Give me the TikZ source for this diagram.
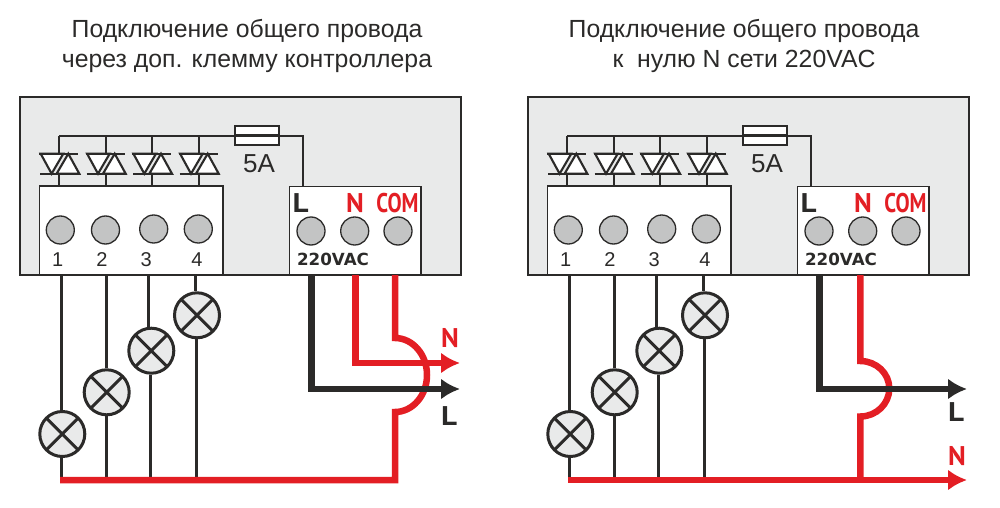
\documentclass[tikz,border=0pt]{standalone}
\usepackage{fontspec}
\usepackage{tikz}
\usetikzlibrary{arrows.meta}
\setmainfont{Liberation Sans}
\newfontfamily\markfont{PT Sans}
\newfontfamily\vacfont{DejaVu Sans}
\definecolor{wireblack}{HTML}{2B2A29}
\definecolor{wirered}{HTML}{E31E24}
\definecolor{panelgray}{HTML}{E9EAEA}
\definecolor{pingray}{HTML}{C3C4C4}
\newcommand{\narrowmark}[1]{\scalebox{.78}[1]{#1}}
\newcommand{\widemark}[1]{\scalebox{1.15}[1]{#1}}
\newcommand{\triac}[2]{%
  \draw[thinwire,fill=white] (#1-18.6,#2-10) -- (#1+4,#2-10) -- (#1-7.7,#2+10) -- cycle;
  \draw[thinwire,fill=white] (#1+9,#2-10) -- (#1+20,#2+10) -- (#1-2.7,#2+10) -- cycle;
  \draw[thinwire] (#1-20,#2-10) -- (#1+19,#2-10) (#1-19,#2+10) -- (#1+20,#2+10);
}
\tikzset{
  thinwire/.style={line width=2.1pt,draw=wireblack},
  loadwire/.style={line width=2.8pt,draw=wireblack},
  blackline/.style={line width=6.5pt,draw=wireblack,line join=miter},
  redline/.style={line width=6.5pt,draw=wirered,line join=miter},
  arrowline/.style={-{Latex[length=19pt,width=21pt]}},
  panel/.style={draw=wireblack,line width=1.3pt,fill=panelgray},
  termblock/.style={draw=wireblack,line width=1.3pt,fill=white},
  pin/.style={circle,draw=wireblack,line width=1.3pt,fill=pingray,minimum size=28pt,inner sep=0pt},
  lamp/.style={circle,draw=wireblack,line width=3pt,fill=panelgray,minimum size=45pt,inner sep=0pt,
    path picture={\draw[line width=3pt,draw=wireblack]
      (path picture bounding box.north west) -- (path picture bounding box.south east)
      (path picture bounding box.north east) -- (path picture bounding box.south west);}},
  fuse/.style={draw=wireblack,line width=1.7pt,fill=white,minimum width=44pt,minimum height=19pt,inner sep=0pt},
  title/.style={font=\fontsize{24.8}{30}\selectfont,align=center,text=wireblack,inner sep=0pt},
  num/.style={font=\fontsize{20}{20}\selectfont,text=wireblack,inner sep=0pt},
  blackmark/.style={font=\markfont\bfseries\fontsize{27}{27}\selectfont,text=wireblack,inner sep=0pt},
  redmark/.style={font=\markfont\bfseries\fontsize{27}{27}\selectfont,text=wirered,inner sep=0pt},
  vac/.style={font=\vacfont\bfseries\fontsize{16.7}{17}\selectfont,text=wireblack,inner sep=0pt},
}
\begin{document}
\begin{tikzpicture}[x=1pt,y=-1pt]
  \useasboundingbox (0,0) rectangle (1000,508);
  \node[title] (titlea) at (247,46) {Подключение общего провода\\через доп. клемму контроллера};
  \node[title] (titleb) at (744,46) {Подключение общего провода\\к\ \ нулю N сети 220VAC};

  % common part of both controllers
  \foreach \p/\dx in {a/0,b/508} {
  \begin{scope}[xshift=\dx pt]
    \draw[panel] (20,97) rectangle (461,275);
    \node[fuse] (\p fuse) at (257,135.5) {};
    \coordinate (\p busl) at (59,136);
    \coordinate (\p busr) at (303,136);
    \coordinate (\p hot) at (303,187);
    \draw[termblock] (39.5,186) rectangle (223,274.5);
    \draw[termblock] (289.5,186.5) rectangle (421,274.5);
    \draw[thinwire] (\p busl) -- (\p busr) -- (\p hot);
    % triacs
    \foreach \n/\x in {1/59.3,2/105.7,3/152,4/198.7} {
      \coordinate (\p tt\n) at (\x,154);
      \coordinate (\p tb\n) at (\x,186);
      \draw[thinwire] (\x,136) -- (\p tt\n) (\x,174) -- (\p tb\n);
      \triac{\x}{163.7}
    }
    \draw[thinwire] (\p fuse.west) -- (\p fuse.east);
    \node[font=\fontsize{26}{26}\selectfont,text=wireblack,inner sep=0pt] (\p amp) at (259,163.5) {5A};
    % screw pins and numbers
    \node[pin] (\p pin1) at (60.3,230) {};
    \node[pin] (\p pin2) at (105.5,230) {};
    \node[pin] (\p pin3) at (153.7,229) {};
    \node[pin] (\p pin4) at (198.3,229) {};
    \node[num] (\p num1) at (57.7,260) {1};
    \node[num] (\p num2) at (102,260) {2};
    \node[num] (\p num3) at (146.3,260) {3};
    \node[num] (\p num4) at (197,260) {4};
    \node[pin] (\p pinl) at (311,231) {};
    \node[pin] (\p pinn) at (354.7,231) {};
    \node[pin] (\p pinc) at (398,231) {};
    \node[blackmark] (\p markl) at (300.5,203) {\widemark{L}};
    \node[redmark] (\p markn) at (355,203) {N};
    \node[redmark] (\p markc) at (397.5,203) {\narrowmark{COM}};
    \node[vac] (\p vac) at (333,259) {220VAC};
    % lamps
    \node[lamp] (\p lamp1) at (62.3,434) {};
    \node[lamp] (\p lamp2) at (106.7,392.3) {};
    \node[lamp] (\p lamp3) at (151.3,350.7) {};
    \node[lamp] (\p lamp4) at (197,315.3) {};
    \foreach \n/\u/\l in {1/61.7/61.7,2/106.3/106.3,3/148.7/150.7,4/195.3/196.3} {
      \coordinate (\p up\n) at (\u,275);
      \coordinate (\p lo\n) at (\l,480);
      \draw[loadwire] (\p up\n) -- (\p up\n |- \p lamp\n.north);
      \draw[loadwire] (\p lamp\n.south -| \p lo\n) -- (\p lo\n);
    }
  \end{scope}
  }

  % left: common through extra terminal
  \coordinate (acom) at (395,275);
  \coordinate (ajt) at (395,338);
  \coordinate (ajm) at (427,375);
  \coordinate (ajb) at (395,412);
  \coordinate (abus) at (60,480);
  \coordinate (acor) at (395,480);
  \draw[redline] (acom) -- (ajt) .. controls (412.7,338) and (427,354.6) .. (ajm)
    .. controls (427,395.4) and (412.7,412) .. (ajb) -- (acor) -- (abus);
  \coordinate (an) at (355.7,275);
  \coordinate (anc) at (355.7,363);
  \coordinate (ant) at (460,363);
  \draw[redline,arrowline] (an) -- (anc) -- (ant);
  \coordinate (al) at (311.7,275);
  \coordinate (alc) at (311.7,389);
  \coordinate (alt) at (460,389);
  \draw[blackline,arrowline] (al) -- (alc) -- (alt);
  \node[redmark] (anlabel) at (450,338) {N};
  \node[blackmark] (allabel) at (449,416) {\widemark{L}};

  % right: common to mains neutral
  \coordinate (bn) at (860.3,275);
  \coordinate (bjt) at (860.3,361);
  \coordinate (bjm) at (889.3,388.5);
  \coordinate (bjb) at (860.3,416.5);
  \coordinate (bcor) at (860.3,480);
  \coordinate (bbus) at (568,480);
  \coordinate (bnt) at (967,480);
  \draw[redline] (bn) -- (bjt) .. controls (876.3,361) and (889.3,373.3) .. (bjm)
    .. controls (889.3,403.8) and (876.3,416.5) .. (bjb) -- (bcor);
  \draw[redline,arrowline] (bbus) -- (bnt);
  \coordinate (bl) at (819.5,275);
  \coordinate (blc) at (819.5,389);
  \coordinate (blt) at (967,389);
  \draw[blackline,arrowline] (bl) -- (blc) -- (blt);
  \node[blackmark] (bllabel) at (956,412) {\widemark{L}};
  \node[redmark] (bnlabel) at (957,456) {N};
\end{tikzpicture}
\end{document}
